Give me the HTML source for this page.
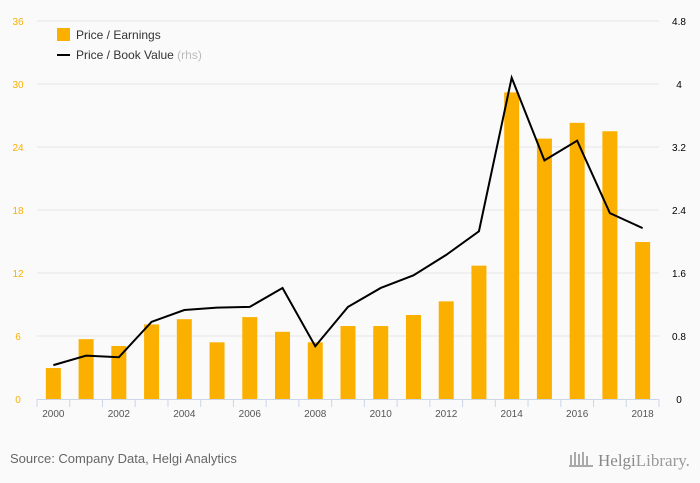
<!DOCTYPE html>
<html><head><meta charset="utf-8"><style>
body{margin:0;background:#fafafa;font-family:"Liberation Sans",sans-serif;}
svg{display:block}
</style></head><body>
<svg width="700" height="483" id="c">
<rect width="700" height="483" fill="#fafafa"/>
<g id="grid"></g><g id="bars"></g><g id="line"></g><g id="axes"></g>
<g>
<rect x="57" y="28" width="13" height="13" fill="#fbb000"/>
<text x="76" y="39" font-size="12" fill="#333">Price / Earnings</text>
<line x1="57" y1="55" x2="70" y2="55" stroke="#000" stroke-width="2"/>
<text x="76" y="59" font-size="12" fill="#333">Price / Book Value <tspan fill="#bbb">(rhs)</tspan></text>
</g>
<text x="10" y="463" font-size="13" fill="#666">Source: Company Data, Helgi Analytics</text>
<text x="598" y="466" font-size="17" fill="#999" font-family="Liberation Serif,serif"><tspan fill="#888">Helgi</tspan>Library.</text>
<g fill="#aaa"><rect x="570" y="455" width="2" height="10"/><rect x="574" y="452" width="2" height="13"/><rect x="578" y="454" width="2" height="11"/><rect x="582" y="452" width="2" height="13"/><rect x="586" y="456" width="2" height="9"/><rect x="569" y="465" width="24" height="2"/></g>
</svg>
<script>
const years=[2000,2001,2002,2003,2004,2005,2006,2007,2008,2009,2010,2011,2012,2013,2014,2015,2016,2017,2018];
const pe=[2.95,5.7,5.05,7.1,7.6,5.4,7.8,6.4,5.4,6.95,6.95,8.0,9.3,12.7,29.2,24.8,26.3,25.5,14.95];
const pbv=[0.43,0.55,0.53,0.98,1.13,1.16,1.17,1.41,0.67,1.17,1.41,1.57,1.83,2.13,4.08,3.03,3.28,2.36,2.17];
const leftTicks=[0,6,12,18,24,30,36];
const rightTicks=["0","0.8","1.6","2.4","3.2","4","4.8"];
const NS="http://www.w3.org/2000/svg";
const x0=37,x1=659,yb=399,yt=21,step=(x1-x0)/years.length;
const yL=v=>yb-(yb-yt)*v/36, yR=v=>yb-(yb-yt)*v/4.8, xc=i=>x0+step*(i+0.5);
function mk(t,a,p){const e=document.createElementNS(NS,t);for(const k in a)e.setAttribute(k,a[k]);document.getElementById(p).appendChild(e);return e;}
leftTicks.forEach((v,i)=>{
 if(v>0){const g=mk('line',{x1:x0,x2:x1,y1:yL(v),y2:yL(v),stroke:'#e6e6e6'},'grid');
 
 }
 const t=mk('text',{x:18,y:yL(v)+4,'font-size':10,fill:'#fbb000','text-anchor':'middle'},'axes');t.textContent=v;
 
 
 const r=mk('text',{x:679,y:yL(v)+4,'font-size':10,fill:'#000','text-anchor':'middle'},'axes');r.textContent=rightTicks[i];
 
 
});
pe.forEach((v,i)=>{const b=mk('rect',{x:xc(i)-7.5,y:yL(v),width:15,height:yb-yL(v),fill:'#fbb000'},'bars');
 
 });
const pl=mk('polyline',{points:pbv.map((v,i)=>xc(i)+','+yR(v)).join(' '),fill:'none',stroke:'#000','stroke-width':2},'line');


const ax=mk('line',{x1:x0,x2:x1,y1:yb+0.5,y2:yb+0.5,stroke:'#ccd6eb'},'axes');


for(let i=0;i<=years.length;i++){const t=mk('line',{x1:x0+step*i,x2:x0+step*i,y1:yb,y2:yb+8,stroke:'#ccd6eb'},'axes');
 
 }
years.forEach((y,i)=>{if(i%2)return;const t=mk('text',{x:xc(i),y:yb+18,'font-size':10,fill:'#555','text-anchor':'middle'},'axes');t.textContent=y;
 
 });
</script>
</body></html>
